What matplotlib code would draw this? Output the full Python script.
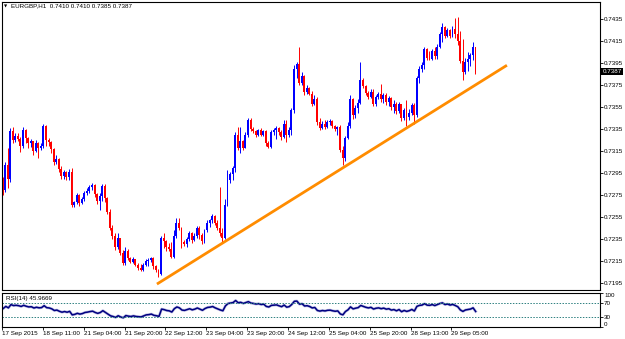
import matplotlib
matplotlib.use("Agg")
import matplotlib.pyplot as plt
import matplotlib.transforms as mtransforms
import numpy as np

plt.rcParams['font.family'] = ['Liberation Sans', 'DejaVu Sans']

# --- données EURGBP H1 (en pips, 7289 = 0.7289) ---
first_open = 7289
close_pips = [
    7280, 7302, 7290, 7333, 7325, 7329, 7326, 7320, 7334, 7327,
    7322, 7324, 7315, 7322, 7318, 7320, 7338, 7325, 7323, 7317,
    7305, 7308, 7299, 7292, 7296, 7291, 7296, 7266, 7269, 7275,
    7268, 7271, 7277, 7279, 7282, 7284, 7276, 7270, 7274, 7283,
    7272, 7260, 7245, 7238, 7228, 7236, 7222, 7213, 7224, 7218,
    7214, 7217, 7211, 7209, 7207, 7211, 7215, 7216, 7218, 7210,
    7207, 7203, 7236, 7233, 7228, 7226, 7219, 7238, 7250, 7245,
    7232, 7230, 7235, 7240, 7234, 7238, 7245, 7239, 7233, 7243,
    7250, 7252, 7256, 7250, 7245, 7240, 7236, 7266, 7289, 7294,
    7300, 7330, 7318, 7324, 7318, 7330, 7343, 7335, 7333, 7330,
    7334, 7330, 7333, 7322, 7319, 7332, 7334, 7336, 7332, 7328,
    7340, 7330, 7334, 7352, 7390, 7394, 7377, 7383, 7369, 7372,
    7367, 7358, 7362, 7341, 7336, 7340, 7337, 7341, 7342, 7338,
    7335, 7337, 7316, 7309, 7327, 7338, 7362, 7348, 7354, 7359,
    7380, 7374, 7368, 7364, 7369, 7358, 7364, 7367, 7362, 7366,
    7360, 7363, 7355, 7358, 7351, 7358, 7345, 7352, 7346, 7350,
    7357, 7348, 7381, 7390, 7393, 7408, 7400, 7399, 7406, 7401,
    7410, 7421, 7428, 7420, 7425, 7420, 7426, 7421, 7415, 7397,
    7387, 7396, 7399, 7402, 7410, 7387,
]
high_pips = [
    7291, 7305, 7318, 7336, 7337, 7331, 7331, 7328, 7337, 7335,
    7328, 7326, 7324, 7325, 7323, 7322, 7340, 7339, 7327, 7324,
    7318, 7311, 7309, 7301, 7298, 7297, 7299, 7300, 7270, 7277,
    7276, 7273, 7279, 7281, 7284, 7286, 7285, 7277, 7277, 7285,
    7285, 7273, 7262, 7248, 7240, 7240, 7236, 7225, 7228, 7226,
    7219, 7219, 7217, 7213, 7212, 7213, 7217, 7218, 7219, 7219,
    7211, 7208, 7238, 7240, 7234, 7231, 7232, 7243, 7254, 7254,
    7246, 7234, 7237, 7242, 7241, 7240, 7247, 7247, 7240, 7244,
    7252, 7253, 7258, 7257, 7252, 7282, 7245, 7271, 7298, 7296,
    7301, 7332, 7337, 7337, 7325, 7332, 7345, 7345, 7337, 7334,
    7335, 7336, 7334, 7334, 7324, 7334, 7336, 7338, 7337, 7334,
    7343, 7343, 7337, 7354, 7393, 7396, 7410, 7387, 7384, 7375,
    7373, 7370, 7366, 7364, 7345, 7342, 7343, 7343, 7344, 7343,
    7339, 7338, 7339, 7320, 7329, 7341, 7366, 7363, 7357, 7362,
    7396, 7381, 7375, 7370, 7371, 7371, 7366, 7369, 7376, 7368,
    7368, 7365, 7364, 7361, 7360, 7360, 7358, 7354, 7361, 7353,
    7359, 7359, 7383, 7392, 7396, 7410, 7409, 7406, 7408, 7410,
    7412, 7423, 7431, 7429, 7427, 7426, 7429, 7436, 7437, 7424,
    7417, 7400, 7405, 7404, 7414, 7410,
]
low_pips = [
    7275, 7278, 7281, 7287, 7322, 7323, 7324, 7314, 7318, 7322,
    7318, 7319, 7311, 7314, 7309, 7316, 7318, 7320, 7320, 7313,
    7302, 7303, 7296, 7290, 7290, 7289, 7289, 7264, 7264, 7267,
    7265, 7267, 7270, 7275, 7277, 7280, 7273, 7267, 7261, 7270,
    7269, 7258, 7243, 7235, 7225, 7226, 7220, 7211, 7211, 7216,
    7213, 7213, 7210, 7207, 7206, 7206, 7210, 7210, 7214, 7208,
    7205, 7200, 7202, 7227, 7224, 7224, 7218, 7218, 7236, 7243,
    7227, 7229, 7228, 7233, 7231, 7233, 7236, 7235, 7230, 7231,
    7241, 7246, 7250, 7248, 7243, 7238, 7232, 7235, 7265, 7286,
    7289, 7296, 7316, 7313, 7316, 7318, 7328, 7333, 7331, 7328,
    7329, 7329, 7329, 7320, 7318, 7318, 7330, 7326, 7330, 7325,
    7327, 7323, 7328, 7330, 7350, 7381, 7375, 7375, 7366, 7367,
    7366, 7356, 7357, 7339, 7334, 7335, 7335, 7336, 7339, 7336,
    7333, 7330, 7314, 7302, 7306, 7326, 7336, 7344, 7345, 7350,
    7358, 7372, 7366, 7362, 7363, 7356, 7356, 7362, 7360, 7359,
    7357, 7356, 7352, 7350, 7349, 7350, 7342, 7343, 7338, 7343,
    7348, 7340, 7346, 7377, 7387, 7390, 7398, 7398, 7398, 7399,
    7399, 7409, 7414, 7418, 7419, 7418, 7419, 7418, 7411, 7395,
    7380, 7385, 7388, 7392, 7398, 7385,
]

# axe du temps : une étiquette toutes les 16 bougies
tick_bars = [0, 16, 32, 48, 64, 80, 96, 112, 128, 144, 160, 176]
tick_labels = ["17 Sep 2015", "18 Sep 11:00", "21 Sep 04:00", "21 Sep 20:00",
               "22 Sep 12:00", "23 Sep 04:00", "23 Sep 20:00", "24 Sep 12:00",
               "25 Sep 04:00", "25 Sep 20:00", "28 Sep 13:00", "29 Sep 05:00"]
price_ticks = [0.7195, 0.7215, 0.7235, 0.7255, 0.7275, 0.7295, 0.7315,
               0.7335, 0.7355, 0.7375, 0.7395, 0.7415, 0.7435]

# droite de tendance (orange)
trend_bars = [60.4, 197.3]
trend_prices = [0.7194, 0.7393]

rsi_period = 14
rsi_levels = [30, 70]
rsi_text = "RSI(14) 45.9669"
header = "EURGBP,H1  0.7410 0.7410 0.7385 0.7387"
last_price = 0.7387

# --- préparation ---
close = np.array(close_pips) / 10000
high = np.array(high_pips) / 10000
low = np.array(low_pips) / 10000
opn = np.concatenate([[first_open / 10000], close[:-1]])
x = np.arange(len(close))

up = close >= opn
colors = np.where(up, '#0000FF', '#FF0000')
body_bottom = np.minimum(opn, close)
body_height = np.maximum(np.abs(close - opn), 0.00005)

# RSI de Wilder
ag, al = 0.0006, 0.0005
rsi = [100 * ag / (ag + al)]
for i in range(1, len(close)):
    d = close[i] - close[i - 1]
    ag = (ag * (rsi_period - 1) + max(d, 0)) / rsi_period
    al = (al * (rsi_period - 1) + max(-d, 0)) / rsi_period
    rsi.append(100 * ag / (ag + al))

# --- figure ---
fig = plt.figure(figsize=(6.25, 3.39), dpi=100, facecolor='white')
ax = fig.add_axes([0.0032, 0.1445, 0.9568, 0.8495])
ax_rsi = fig.add_axes([0.0032, 0.0354, 0.9568, 0.1003])

fs = 4.5

# bougies
ax.vlines(x, low, high, colors=colors, linewidth=0.7)
ax.bar(x, body_height, bottom=body_bottom, width=0.75, color=colors, linewidth=0)
ax.plot(trend_bars, trend_prices, color='#FF8C00', linewidth=2, solid_capstyle='butt')

ax.set_xlim(-0.2, 233.7)
ax.set_ylim(0.71886, 0.74505)
ax.set_xticks([])
ax.yaxis.tick_right()
ax.set_yticks(price_ticks)
ax.set_yticklabels([f"{p:.4f}" for p in price_ticks])
ax.tick_params(axis='y', labelsize=fs, length=2, width=0.6, pad=1)

# étiquette du dernier prix
trans = mtransforms.blended_transform_factory(ax.transAxes, ax.transData)
ax.text(1.004, last_price, f"{last_price:.4f}", transform=trans, fontsize=fs,
        color='white', va='center', ha='left',
        bbox=dict(facecolor='black', edgecolor='none', pad=0.8))

# RSI (léger halo comme sur l'original)
ax_rsi.plot(x, rsi, color='#8f8fd0', linewidth=2.0, alpha=0.6)
ax_rsi.plot(x, rsi, color='#000080', linewidth=1.1)
for lvl in rsi_levels:
    ax_rsi.axhline(lvl, color='#2e8080', linewidth=0.7, linestyle=(0, (1.5, 1.5)))
ax_rsi.set_xlim(-0.2, 233.7)
ax_rsi.set_ylim(0, 100)
ax_rsi.yaxis.tick_right()
ax_rsi.set_yticks([0, 30, 70, 100])
ylabels = ax_rsi.set_yticklabels(["0", "30", "70", "100"])
ylabels[0].set_va('bottom')
ylabels[3].set_va('top')
ax_rsi.tick_params(axis='y', labelsize=fs, length=2, width=0.6, pad=1)
ax_rsi.set_xticks([b - 0.5 for b in tick_bars])
ax_rsi.set_xticklabels(tick_labels, ha='left')
ax_rsi.tick_params(axis='x', labelsize=fs, length=2, width=0.6, pad=1)
ax_rsi.text(0.006, 0.84, rsi_text, transform=ax_rsi.transAxes, fontsize=fs,
            va='center', ha='left')

for a in (ax, ax_rsi):
    for s in a.spines.values():
        s.set_linewidth(0.8)
        s.set_color('black')

# en-tête
fig.text(4 / 625, 1 - 6.5 / 339, "\u25bc", fontsize=3, va='center', ha='left',
         family='DejaVu Sans')
fig.text(11 / 625, 1 - 6 / 339, header, fontsize=fs, va='center', ha='left')

fig.savefig('out.png', dpi=100, facecolor='white')
